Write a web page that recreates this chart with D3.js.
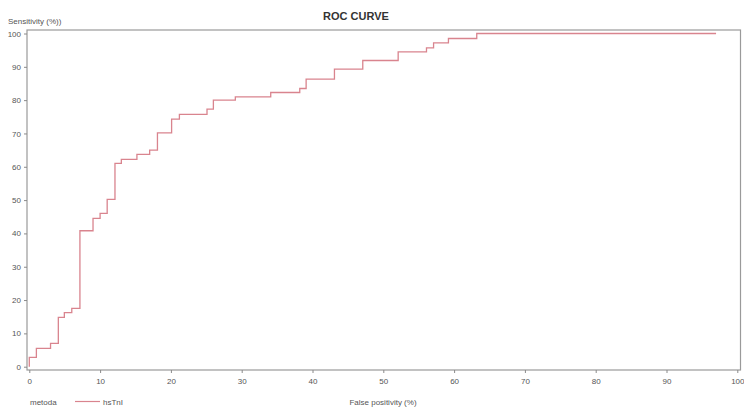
<!DOCTYPE html>
<html><head><meta charset="utf-8">
<script src="https://cdn.jsdelivr.net/npm/d3@7"></script>
<style>body{margin:0;background:#fff;} svg{display:block;font-family:"Liberation Sans",Arial,sans-serif;}</style>
</head><body>
<svg id="c" width="744" height="407"></svg>
<script>
const fpr  = [0, 0, 1.0, 1.0, 3.0, 3.0, 4.1, 4.1, 4.95, 4.95, 6.0, 6.0, 7.15, 7.15, 9.0, 9.0, 10.0, 10.0, 11.0, 11.0, 12.1, 12.1, 13.0, 13.0, 15.2, 15.2, 17.0, 17.0, 18.1, 18.1, 20.1, 20.1, 21.2, 21.2, 25.1, 25.1, 26.0, 26.0, 29.1, 29.1, 34.1, 34.1, 38.2, 38.2, 39.1, 39.1, 43.1, 43.1, 47.1, 47.1, 52.1, 52.1, 56.1, 56.1, 57.1, 57.1, 59.2, 59.2, 63.2, 63.2, 97.0];
const sens = [0, 2.8, 2.8, 5.5, 5.5, 7.0, 7.0, 14.8, 14.8, 16.2, 16.2, 17.5, 17.5, 40.8, 40.8, 44.5, 44.5, 46.0, 46.0, 50.2, 50.2, 61.0, 61.0, 62.2, 62.2, 63.7, 63.7, 65.0, 65.0, 70.2, 70.2, 74.3, 74.3, 75.7, 75.7, 77.3, 77.3, 80.0, 80.0, 81.0, 81.0, 82.3, 82.3, 83.5, 83.5, 86.3, 86.3, 89.3, 89.3, 91.9, 91.9, 94.5, 94.5, 95.7, 95.7, 97.2, 97.2, 98.5, 98.5, 100, 100];
const xTicks = [0,10,20,30,40,50,60,70,80,90,100];
const yTicks = [0,10,20,30,40,50,60,70,80,90,100];

const svg = d3.select("#c");
const x = d3.scaleLinear().domain([0,100]).range([29.3,737.3]);
const y = d3.scaleLinear().domain([0,100]).range([366.7,33.5]);
const L=27, R=740.5, T=30, B=370;
const axisCol="#8a8a8a", txt="#555";

svg.append("rect").attr("x",L).attr("y",T).attr("width",R-L).attr("height",B-T)
  .attr("fill","none").attr("stroke","#9a9a9a").attr("stroke-width",1.2);

const xa = svg.append("g").attr("transform",`translate(0,${B})`)
  .call(d3.axisBottom(x).tickValues(xTicks).tickSize(3).tickPadding(5).tickFormat(d3.format("d")));
const ya = svg.append("g").attr("transform",`translate(${L},0)`)
  .call(d3.axisLeft(y).tickValues(yTicks).tickSize(3).tickPadding(3).tickFormat(d3.format("d")));
[xa,ya].forEach(a=>{
  a.select(".domain").remove();
  a.selectAll("line").attr("stroke",axisCol);
  a.selectAll("text").attr("fill",txt).attr("font-size",8);
});

const line = d3.line().x((d,i)=>x(fpr[i])).y((d,i)=>y(sens[i]));
svg.append("path").datum(sens).attr("d",line).attr("fill","none")
  .attr("stroke","#d9848e").attr("stroke-width",1.3);

svg.append("text").attr("x",356).attr("y",20).attr("text-anchor","middle")
  .attr("font-size",11).attr("font-weight","bold").attr("fill","#333").text("ROC CURVE");
svg.append("text").attr("x",8).attr("y",24).attr("font-size",8).attr("fill",txt).text("Sensitivity (%))");
svg.append("text").attr("x",383).attr("y",405).attr("text-anchor","middle")
  .attr("font-size",8).attr("fill",txt).text("False positivity (%)");
svg.append("text").attr("x",30).attr("y",405).attr("font-size",8).attr("fill",txt).text("metoda");
svg.append("line").attr("x1",75).attr("x2",100).attr("y1",401.5).attr("y2",401.5)
  .attr("stroke","#d9848e").attr("stroke-width",1.2);
svg.append("text").attr("x",103).attr("y",405).attr("font-size",8).attr("fill",txt).text("hsTnI");
</script>
</body></html>
